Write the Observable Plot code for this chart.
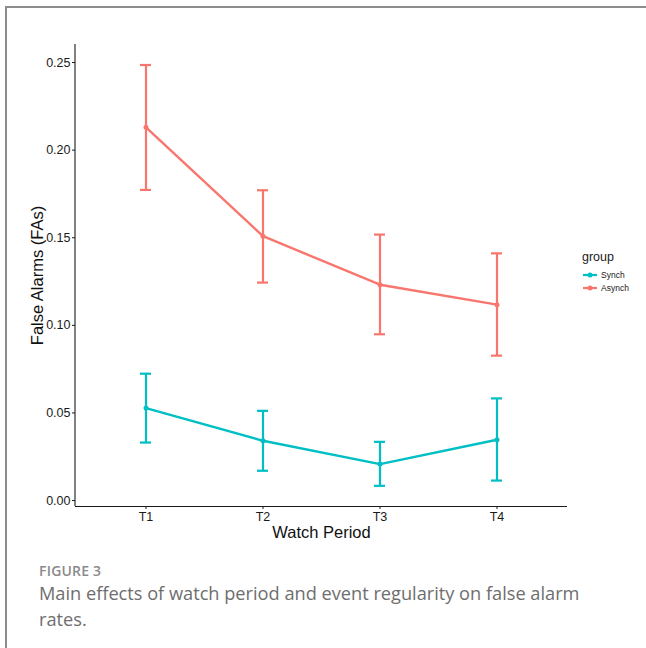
<!DOCTYPE html>
<html>
<head>
<meta charset="utf-8">
<script src="https://cdn.jsdelivr.net/npm/d3@7"></script>
<script src="https://cdn.jsdelivr.net/npm/@observablehq/plot@0.6"></script>
<style>
  html, body { margin: 0; padding: 0; background: #fff; }
  body { width: 646px; height: 648px; position: relative; overflow: hidden; font-family: "Liberation Sans", Arial, sans-serif; }
  #frame { position: absolute; left: 5px; top: 6px; width: 650px; height: 660px; border-top: 2px solid #8c8c8c; border-left: 2px solid #8c8c8c; }
  #chart { position: absolute; left: 0; top: 0; }
  #legend { position: absolute; left: 582px; top: 250px; color: #1a1a1a; }
  #legend .title { font-size: 12.5px; margin-bottom: 4px; }
  #legend .item { font-size: 8.5px; height: 13px; display: flex; align-items: center; }
  #legend svg { margin-right: 3px; }
  #fig { position: absolute; left: 39px; top: 561px; font-family: "Open Sans", sans-serif; font-weight: 600; font-size: 14px; color: #8a8a8a; letter-spacing: 0.2px; }
  #cap { position: absolute; left: 39px; top: 580px; width: 565px; font-family: "Open Sans", sans-serif; font-size: 18.2px; line-height: 26px; color: #6e6e6e; }
</style>
</head>
<body>
<div id="frame"></div>
<div id="chart"></div>
<div id="legend"></div>
<div id="fig">FIGURE 3</div>
<div id="cap">Main effects of watch period and event regularity on false alarm rates.</div>
<script>
const periods = ["T1", "T2", "T3", "T4"];
const groups = ["Synch", "Asynch"];
const colors = ["#00BFC4", "#F8766D"];
const synchMean = [0.0528, 0.0341, 0.0208, 0.0347];
const synchLo   = [0.0331, 0.0170, 0.0084, 0.0114];
const synchHi   = [0.0724, 0.0512, 0.0335, 0.0583];
const asynchMean = [0.2130, 0.1509, 0.1232, 0.1118];
const asynchLo   = [0.1773, 0.1244, 0.0949, 0.0827];
const asynchHi   = [0.2486, 0.1771, 0.1518, 0.1411];
const yTicks = [0, 0.05, 0.10, 0.15, 0.20, 0.25];

const data = [];
periods.forEach((p, i) => {
  data.push({period: p, group: "Synch", mean: synchMean[i], lo: synchLo[i], hi: synchHi[i]});
  data.push({period: p, group: "Asynch", mean: asynchMean[i], lo: asynchLo[i], hi: asynchHi[i]});
});

const yDomain = [-0.0034, 0.2603];

const plot = Plot.plot({
  width: 646,
  height: 545,
  marginLeft: 75,
  marginRight: 79,
  marginTop: 44,
  marginBottom: 39,
  style: { fontFamily: "Liberation Sans, Arial, sans-serif", fontSize: "12px", color: "#1a1a1a", background: "transparent" },
  x: { type: "band", domain: periods, paddingInner: 0.906, paddingOuter: 0.553, label: null },
  y: { domain: yDomain, label: null },
  color: { domain: groups, range: colors },
  marks: [
    Plot.axisY({ ticks: yTicks, tickFormat: d3.format(".2f"), tickSize: 3, tickPadding: 2, fontSize: 12.5, label: null }),
    Plot.axisX({ tickSize: 3, tickPadding: 3, fontSize: 12.5, label: null }),
    Plot.ruleY([yDomain[0]], { stroke: "#1a1a1a", strokeWidth: 1.1 }),
    Plot.ruleX(data, { x: "period", y1: "lo", y2: "hi", stroke: "group", strokeWidth: 2.2 }),
    Plot.tickY(data, { x: "period", y: "lo", stroke: "group", strokeWidth: 2.2 }),
    Plot.tickY(data, { x: "period", y: "hi", stroke: "group", strokeWidth: 2.2 }),
    Plot.line(data, { x: "period", y: "mean", z: "group", stroke: "group", strokeWidth: 2.4 }),
    Plot.dot(data, { x: "period", y: "mean", fill: "group", r: 2.5 }),
    Plot.text(["False Alarms (FAs)"], { frameAnchor: "left", textAnchor: "middle", dx: -38, rotate: -90, fontSize: 16.5, fill: "#111" }),
    Plot.text(["Watch Period"], { frameAnchor: "bottom", dy: 31, fontSize: 16.5, fill: "#111" })
  ]
});
document.getElementById("chart").appendChild(plot);

// left axis line, from the y scale's range
const ys = plot.scale("y");
const xr = plot.scale("x").range;
d3.select(plot).append("line")
  .attr("x1", xr[0]).attr("x2", xr[0])
  .attr("y1", ys.range[0]).attr("y2", ys.range[1])
  .attr("stroke", "#1a1a1a").attr("stroke-width", 1.1);

// legend
const leg = d3.select("#legend");
leg.append("div").attr("class", "title").text("group");
groups.forEach((g, i) => {
  const it = leg.append("div").attr("class", "item");
  const s = it.append("svg").attr("width", 16).attr("height", 8);
  s.append("line").attr("x1", 1).attr("x2", 15).attr("y1", 4).attr("y2", 4).attr("stroke", colors[i]).attr("stroke-width", 2.2);
  s.append("circle").attr("cx", 8).attr("cy", 4).attr("r", 2.5).attr("fill", colors[i]);
  it.append("span").text(g);
});
</script>
</body>
</html>
